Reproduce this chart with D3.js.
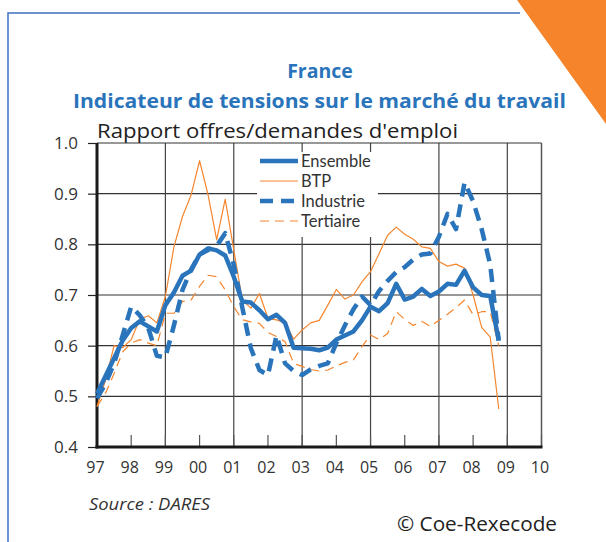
<!DOCTYPE html>
<html><head><meta charset="utf-8">
<script src="https://cdn.jsdelivr.net/npm/d3@7"></script>
<style>body{margin:0;background:#fff}svg{display:block}</style>
</head><body>
<script>
const periods = d3.range(48).map(i => 1997 + i / 4);
const ensemble = [0.505,0.54,0.575,0.61, 0.635,0.648,0.638,0.628, 0.68,0.705,0.738,0.748, 0.78,0.792,0.788,0.778, 0.736,0.687,0.685,0.67,
  0.652,0.661,0.645,0.596, 0.595,0.594,0.591,0.596, 0.612,0.62,0.628,0.65, 0.677,0.668,0.684,0.722, 0.691,0.697,0.712,0.698, 0.707,0.722,0.72,0.748, 0.715,0.70,0.698,0.61];
const btp = [0.48,0.532,0.60,0.596, 0.612,0.652,0.659,0.645, 0.697,0.795,0.855,0.897, 0.965,0.897,0.809,0.889, 0.789,0.69,0.674,0.703,
  0.654,0.651,0.645,0.613, 0.631,0.645,0.65,0.68, 0.711,0.692,0.70,0.726, 0.746,0.782,0.818,0.834, 0.82,0.81,0.795,0.792, 0.766,0.757,0.761,0.753, 0.70,0.636,0.617,0.475];
const industrie = [0.496,0.525,0.565,0.62, 0.677,0.66,0.635,0.58, 0.577,0.64,0.71,0.75, 0.78,0.789,0.797,0.822, 0.76,0.675,0.595,0.552,
  0.542,0.62,0.565,0.55, 0.542,0.553,0.56,0.565, 0.605,0.64,0.672,0.697, 0.68,0.708,0.728,0.745, 0.755,0.77,0.78,0.782, 0.815,0.86,0.83,0.922, 0.885,0.83,0.76,0.61];
const tertiaire = [0.48,0.506,0.545,0.588, 0.605,0.612,0.605,0.60, 0.664,0.664,0.687,0.69, 0.717,0.739,0.736,0.71, 0.677,0.651,0.647,0.644,
  0.626,0.618,0.608,0.565, 0.559,0.553,0.55,0.552, 0.56,0.567,0.572,0.598, 0.621,0.612,0.624,0.667, 0.652,0.64,0.648,0.638, 0.65,0.662,0.675,0.69, 0.661,0.667,0.667,0.60];
const yTicks = [0.4,0.5,0.6,0.7,0.8,0.9,1.0];
const xYears = d3.range(1997, 2011);
const xLabels = ["97","98","99","00","01","02","03","04","05","06","07","08","09","10"];
const gridYears = [1999,2001,2003,2005,2007,2009];
const seriesNames = ["Ensemble","BTP","Industrie","Tertiaire"];

const W = 606, H = 542;
const blue = "#2a74bb", orange = "#f5862e";
const svg = d3.select("body").append("svg").attr("width", W).attr("height", H);
const x = d3.scaleLinear().domain([1997, 2010]).range([97, 541.5]);
const y = d3.scaleLinear().domain([0.4, 1.0]).range([447, 143]);

// decorative frame
svg.append("path").attr("d", "M8,542 L8,13 L520,13").attr("fill", "none").attr("stroke", "#3d72c2").attr("stroke-width", 1.5);
svg.append("path").attr("d", "M517,0 L606,0 L606,124 Z").attr("fill", "#f5842a");

// titles
const tf = "'Open Sans', Lato, sans-serif";
const lf = "Lato, 'Open Sans', sans-serif";
svg.append("text").attr("x", 320).attr("y", 78).attr("text-anchor", "middle").attr("font-family", tf).attr("font-weight", 700).attr("font-size", 19.5).attr("fill", blue).text("France");
svg.append("text").attr("x", 319.5).attr("y", 108).attr("text-anchor", "middle").attr("font-family", tf).attr("font-weight", 700).attr("font-size", 20).attr("fill", blue)
  .attr("textLength", 493).attr("lengthAdjust", "spacingAndGlyphs").text("Indicateur de tensions sur le marché du travail");
svg.append("text").attr("x", 97).attr("y", 138).attr("font-family", tf).attr("font-size", 20).attr("fill", "#222")
  .attr("textLength", 361).attr("lengthAdjust", "spacingAndGlyphs").text("Rapport offres/demandes d'emploi");

// grid
const g = svg.append("g");
g.selectAll(".hg").data(yTicks.filter(v => v > 0.41 && v < 0.99)).join("line")
  .attr("x1", x(1997)).attr("x2", x(2010)).attr("y1", d => y(d)).attr("y2", d => y(d))
  .attr("stroke", "#333").attr("stroke-width", 1.2);
g.selectAll(".vg").data(gridYears).join("line")
  .attr("x1", d => x(d)).attr("x2", d => x(d)).attr("y1", y(1.0)).attr("y2", y(0.4))
  .attr("stroke", "#444").attr("stroke-width", 1.2);
g.append("line").attr("x1", x(1997)).attr("x2", x(2010)).attr("y1", y(1.0)).attr("y2", y(1.0)).attr("stroke", "#333").attr("stroke-width", 1.2);
g.append("line").attr("x1", x(2010)).attr("x2", x(2010)).attr("y1", y(1.0)).attr("y2", y(0.4)).attr("stroke", "#555").attr("stroke-width", 1.5);
g.selectAll(".bt").data(xYears).join("line")
  .attr("x1", d => x(d)).attr("x2", d => x(d)).attr("y1", y(0.4)).attr("y2", y(0.4) - 12)
  .attr("stroke", "#555").attr("stroke-width", 1.2);

// legend background
svg.append("rect").attr("x", 257).attr("y", 152).attr("width", 121).attr("height", 85).attr("fill", "#fff");

// axes
const yAxis = d3.axisLeft(y).tickValues(yTicks).tickFormat(d3.format(".1f")).tickSize(9).tickPadding(10);
const ya = svg.append("g").attr("transform", `translate(${x(1997)},0)`).call(yAxis);
ya.select(".domain").remove();
ya.selectAll("line").attr("stroke", "#222").attr("stroke-width", 1.2);
ya.selectAll("text").attr("font-family", tf).attr("font-size", 17).attr("fill", "#333");

const xAxis = d3.axisBottom(x).tickValues(xYears).tickFormat((d, i) => xLabels[i]).tickSize(0).tickPadding(15);
const xa = svg.append("g").attr("transform", `translate(0,${y(0.4)})`).call(xAxis);
xa.select(".domain").remove();
xa.selectAll("text").attr("font-family", tf).attr("font-size", 16).attr("fill", "#333").attr("dx", -2);

svg.append("line").attr("x1", x(1997)).attr("x2", x(1997)).attr("y1", y(1.0)).attr("y2", y(0.4) + 1.5).attr("stroke", "#1a1a1a").attr("stroke-width", 3);
svg.append("line").attr("x1", x(1997) - 1.5).attr("x2", x(2010) + 1).attr("y1", y(0.4)).attr("y2", y(0.4)).attr("stroke", "#1a1a1a").attr("stroke-width", 3);

// series
const styles = {
  Ensemble: {data: ensemble, color: blue, w: 4.5, dash: null},
  BTP: {data: btp, color: orange, w: 1.2, dash: null},
  Industrie: {data: industrie, color: blue, w: 4.5, dash: "13,8"},
  Tertiaire: {data: tertiaire, color: orange, w: 1.2, dash: "9,6"}
};
const line = d3.line().x((d, i) => x(periods[i])).y(d => y(d));
["Tertiaire","BTP","Industrie","Ensemble"].forEach(name => {
  const s = styles[name];
  svg.append("path").datum(s.data).attr("d", line).attr("fill", "none")
    .attr("stroke", s.color).attr("stroke-width", s.w).attr("stroke-linejoin", "round")
    .attr("stroke-dasharray", s.dash);
});

// legend
seriesNames.forEach((name, i) => {
  const s = styles[name];
  const ly = 161 + i * 20;
  svg.append("line").attr("x1", 260).attr("x2", 298).attr("y1", ly).attr("y2", ly)
    .attr("stroke", s.color).attr("stroke-width", s.w).attr("stroke-dasharray", s.dash);
  svg.append("text").attr("x", 301).attr("y", ly + 6).attr("font-family", lf).attr("font-size", 16.5).attr("fill", "#333").text(name);
});

// footer
svg.append("text").attr("x", 89).attr("y", 510).attr("font-family", tf).attr("font-style", "italic").attr("font-size", 16.5).attr("fill", "#333")
  .attr("textLength", 121).attr("lengthAdjust", "spacingAndGlyphs").text("Source : DARES");
svg.append("text").attr("x", 397).attr("y", 531).attr("font-family", tf).attr("font-size", 19.5).attr("fill", "#222")
  .attr("textLength", 160).attr("lengthAdjust", "spacingAndGlyphs").text("© Coe-Rexecode");
</script>
</body></html>
